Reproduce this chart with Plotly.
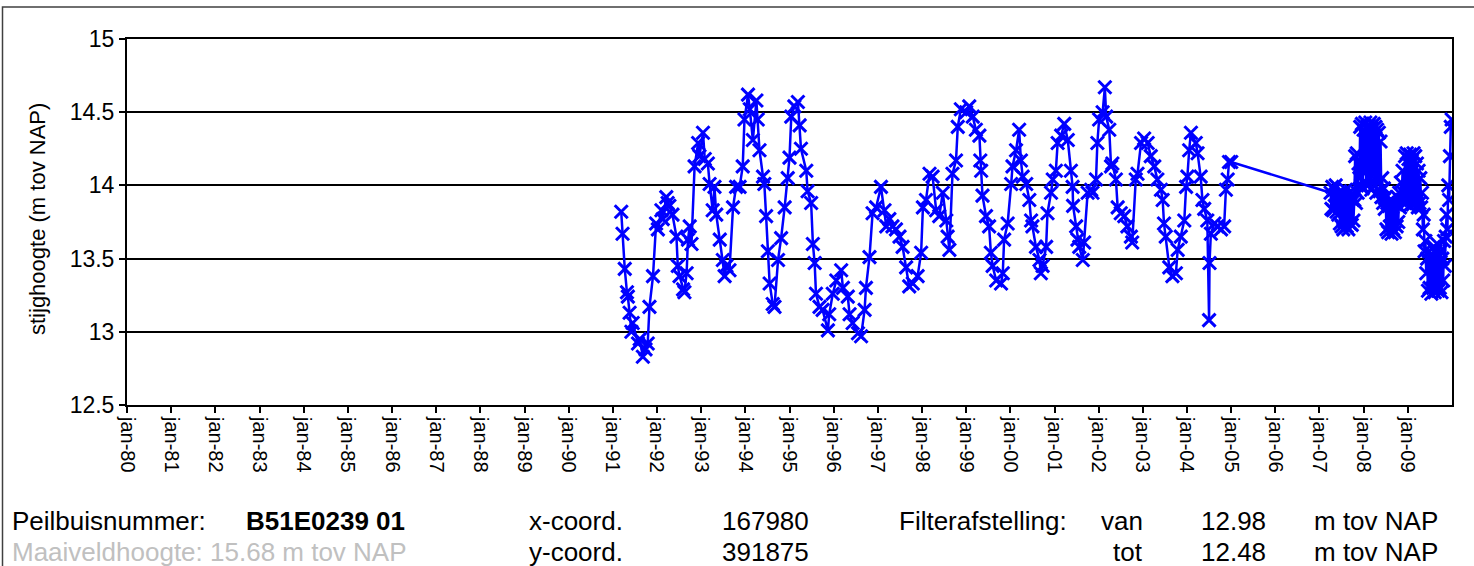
import pandas as pd
import plotly.graph_objects as go

# ---------------- data ----------------
# manual measurements: decimal year, stijghoogte (m tov NAP)
manual_years = [
    1991.19, 1991.22, 1991.27, 1991.32, 1991.34, 1991.38, 1991.42, 1991.45, 1991.57, 1991.61,
    1991.68, 1991.74, 1991.79, 1991.83, 1991.91, 1991.98, 1992.02, 1992.10, 1992.13, 1992.21,
    1992.24, 1992.28, 1992.35, 1992.44, 1992.47, 1992.51, 1992.59, 1992.62, 1992.67, 1992.70,
    1992.74, 1992.78, 1992.85, 1992.93, 1992.96, 1993.04, 1993.08, 1993.15, 1993.19, 1993.26,
    1993.30, 1993.34, 1993.42, 1993.49, 1993.53, 1993.57, 1993.64, 1993.72, 1993.79, 1993.87,
    1993.94, 1993.98, 1994.06, 1994.10, 1994.17, 1994.25, 1994.28, 1994.32, 1994.40, 1994.43,
    1994.47, 1994.51, 1994.55, 1994.62, 1994.66, 1994.74, 1994.81, 1994.89, 1994.96, 1995.00,
    1995.04, 1995.11, 1995.19, 1995.23, 1995.26, 1995.38, 1995.41, 1995.49, 1995.53, 1995.57,
    1995.60, 1995.68, 1995.75, 1995.87, 1995.90, 1995.98, 1996.06, 1996.17, 1996.21, 1996.32,
    1996.36, 1996.43, 1996.55, 1996.62, 1996.70, 1996.73, 1996.81, 1996.88, 1996.96, 1997.07,
    1997.15, 1997.19, 1997.26, 1997.33, 1997.41, 1997.49, 1997.56, 1997.64, 1997.71, 1997.79,
    1997.90, 1997.98, 1998.02, 1998.09, 1998.17, 1998.24, 1998.32, 1998.39, 1998.47, 1998.55,
    1998.58, 1998.62, 1998.69, 1998.77, 1998.81, 1998.88, 1999.00, 1999.07, 1999.15, 1999.22,
    1999.30, 1999.32, 1999.34, 1999.37, 1999.45, 1999.52, 1999.56, 1999.60, 1999.68, 1999.79,
    1999.83, 1999.86, 1999.94, 2000.02, 2000.05, 2000.13, 2000.20, 2000.24, 2000.28, 2000.36,
    2000.43, 2000.47, 2000.50, 2000.58, 2000.66, 2000.69, 2000.73, 2000.81, 2000.84, 2000.92,
    2000.96, 2001.03, 2001.07, 2001.15, 2001.22, 2001.30, 2001.37, 2001.41, 2001.42, 2001.49,
    2001.52, 2001.56, 2001.64, 2001.67, 2001.75, 2001.83, 2001.86, 2001.94, 2001.97, 2002.01,
    2002.09, 2002.14, 2002.17, 2002.24, 2002.28, 2002.31, 2002.39, 2002.43, 2002.50, 2002.58,
    2002.65, 2002.73, 2002.76, 2002.84, 2002.88, 2002.96, 2003.03, 2003.11, 2003.18, 2003.26,
    2003.33, 2003.41, 2003.45, 2003.48, 2003.52, 2003.60, 2003.67, 2003.75, 2003.79, 2003.86,
    2003.94, 2003.98, 2004.01, 2004.05, 2004.09, 2004.20, 2004.24, 2004.31, 2004.35, 2004.39,
    2004.46, 2004.50, 2004.51, 2004.54, 2004.62, 2004.69, 2004.77, 2004.84, 2004.88, 2004.92,
    2004.95, 2005.00,
]
manual_values = [
    13.82, 13.67, 13.43, 13.27, 13.24, 13.13, 13.00, 13.06, 12.92, 12.95,
    12.83, 12.88, 12.92, 13.17, 13.38, 13.74, 13.70, 13.83, 13.77, 13.92,
    13.88, 13.86, 13.80, 13.65, 13.45, 13.38, 13.29, 13.27, 13.40, 13.63,
    13.72, 13.60, 14.13, 14.29, 14.20, 14.36, 14.18, 14.15, 14.01, 13.83,
    13.99, 13.80, 13.63, 13.49, 13.38, 13.45, 13.42, 13.85, 13.99, 13.99,
    14.13, 14.45, 14.62, 14.52, 14.31, 14.58, 14.45, 14.24, 14.06, 14.01,
    13.79, 13.55, 13.33, 13.19, 13.17, 13.49, 13.64, 13.85, 14.05, 14.19,
    14.47, 14.54, 14.57, 14.41, 14.25, 14.10, 13.96, 13.88, 13.60, 13.47,
    13.26, 13.17, 13.15, 13.01, 13.12, 13.26, 13.35, 13.42, 13.30, 13.24,
    13.12, 13.06, 12.99, 12.97, 13.15, 13.30, 13.51, 13.81, 13.85, 13.99,
    13.83, 13.72, 13.77, 13.72, 13.70, 13.65, 13.58, 13.44, 13.31, 13.33,
    13.38, 13.54, 13.85, 13.90, 14.08, 14.06, 13.83, 13.79, 13.95, 13.76,
    13.65, 13.56, 14.08, 14.17, 14.40, 14.52, 14.50, 14.54, 14.47, 14.38,
    14.34, 14.17, 14.10, 13.93, 13.79, 13.72, 13.54, 13.45, 13.35, 13.33,
    13.40, 13.63, 13.74, 14.01, 14.13, 14.24, 14.38, 14.17, 14.06, 14.01,
    13.90, 13.76, 13.72, 13.58, 13.49, 13.40, 13.45, 13.58, 13.81, 13.95,
    14.04, 14.10, 14.29, 14.34, 14.42, 14.31, 14.10, 13.99, 13.86, 13.72,
    13.63, 13.58, 13.49, 13.61, 13.95, 13.97, 13.95, 14.04, 14.29, 14.45,
    14.50, 14.67, 14.47, 14.38, 14.13, 14.15, 14.04, 13.85, 13.81, 13.79,
    13.72, 13.65, 13.61, 14.04, 14.08, 14.29, 14.32, 14.29, 14.20, 14.13,
    14.04, 13.97, 13.90, 13.74, 13.65, 13.44, 13.38, 13.40, 13.56, 13.65,
    13.76, 13.99, 14.06, 14.24, 14.36, 14.29, 14.22, 14.06, 13.90, 13.84,
    13.76, 13.08, 13.47, 13.67, 13.74, 13.72, 13.70, 13.72, 13.97, 14.04,
    14.16, 14.16,
]

# logger measurements (weekly readings) starting at this date
logger_start = "2007-04-03"
logger_values = [
    13.95, 13.84, 13.99, 13.83, 13.97, 13.86, 14.00, 13.82, 13.94, 13.80, 13.92,
    13.74, 13.95, 13.72, 13.90, 13.70, 13.93, 13.75, 13.97, 13.72, 13.88, 13.70, 13.92,
    13.74, 13.96, 13.73, 13.90, 13.76,
    13.90, 14.20, 13.88, 14.22, 13.95, 14.15,
    14.05, 14.40, 14.00, 14.42, 13.98, 14.38, 14.10, 14.43, 14.02, 14.40, 14.00, 14.41,
    14.05, 14.43, 13.97, 14.39, 14.08, 14.42, 14.00, 14.40, 13.95, 14.38, 14.02, 14.36,
    13.96, 14.30,
    13.92, 14.05, 13.88, 13.98, 13.84, 13.92,
    13.70, 13.88, 13.68, 13.86, 13.72, 13.90, 13.67, 13.85, 13.70, 13.88, 13.68, 13.87,
    13.72, 13.92, 13.75,
    13.95, 13.85, 14.02, 13.90, 14.10, 13.95,
    13.90, 14.20, 13.88, 14.22, 13.92, 14.18, 13.86, 14.21, 13.90, 14.17, 13.87, 14.22,
    13.93, 14.20, 13.88, 14.15, 13.85, 14.10, 13.88, 14.05,
    13.85, 13.95, 13.70, 13.80, 13.55, 13.62, 13.40, 13.50,
    13.28, 13.55, 13.30, 13.52, 13.26, 13.50, 13.30, 13.58, 13.27, 13.55, 13.32, 13.60,
    13.28, 13.52, 13.30, 13.55, 13.27, 13.50, 13.35, 13.62,
    13.45, 13.65, 13.80, 13.70, 14.00, 13.90, 14.20, 14.40, 14.45,
]

tick_years = list(range(1980, 2010))
tick_labels = ["jan-%02d" % (y % 100) for y in tick_years]
y_ticks = [12.5, 13, 13.5, 14, 14.5, 15]

# ---------------- build ----------------
def dec2date(d):
    y = int(d)
    start = pd.Timestamp(y, 1, 1)
    end = pd.Timestamp(y + 1, 1, 1)
    return start + (end - start) * (d - y)

manual_dates = [dec2date(d) for d in manual_years]
logger_dates = list(pd.date_range(logger_start, periods=len(logger_values), freq="7D"))

xs = manual_dates + logger_dates
ys = manual_values + logger_values

BLUE = "#0000FF"
FONT = "Liberation Sans, Arial, sans-serif"

fig = go.Figure()
fig.add_trace(go.Scatter(
    x=xs, y=ys, mode="lines+markers",
    line=dict(color=BLUE, width=2.5),
    marker=dict(symbol="x-thin", size=13, color=BLUE, line=dict(color=BLUE, width=3)),
    showlegend=False, hoverinfo="skip",
))

fig.update_layout(
    width=1474, height=566,
    margin=dict(l=127, r=22, t=39, b=161),
    paper_bgcolor="white", plot_bgcolor="white",
    font=dict(family=FONT, color="black"),
    xaxis=dict(
        type="date",
        range=[pd.Timestamp(1980, 1, 1), pd.Timestamp(2010, 1, 1)],
        tickvals=[pd.Timestamp(y, 1, 1) for y in tick_years],
        ticktext=tick_labels,
        tickangle=90,
        tickfont=dict(size=20, family=FONT),
        ticks="outside", ticklen=6, tickwidth=1.5, tickcolor="black",
        showgrid=False, zeroline=False,
        showline=True, linecolor="black", linewidth=2, mirror=True,
        automargin=False,
    ),
    yaxis=dict(
        range=[12.5, 15],
        tickvals=y_ticks,
        ticktext=[("%g" % v) for v in y_ticks],
        tickfont=dict(size=23, family=FONT),
        ticks="outside", ticklen=6, tickwidth=1.5, tickcolor="black",
        showgrid=True, gridcolor="black", gridwidth=2,
        zeroline=False,
        showline=True, linecolor="black", linewidth=2, mirror=True,
        automargin=False,
    ),
)

PW = 1474 - 127 - 22
PH = 566 - 39 - 161

def px(x):
    return (x - 127) / PW

def py(y):
    return (566 - 161 - y) / PH

annotations = [
    dict(text="stijghoogte (m tov NAP)", x=px(37), y=py(219), textangle=-90,
         xanchor="center", yanchor="middle", font=dict(size=22)),
]

row1, row2 = 521, 552
txt = [
    ("Peilbuisnummer:", 10, row1, "left", "black"),
    ("<b>B51E0239 01</b>", 244, row1, "left", "black"),
    ("x-coord.", 527, row1, "left", "black"),
    ("167980", 720, row1, "left", "black"),
    ("Filterafstelling:", 897, row1, "left", "black"),
    ("van", 1145, row1, "right", "black"),
    ("12.98", 1199, row1, "left", "black"),
    ("m tov NAP", 1312, row1, "left", "black"),
    ("Maaiveldhoogte: 15.68 m tov NAP", 10, row2, "left", "#C0C0C0"),
    ("y-coord.", 527, row2, "left", "black"),
    ("391875", 720, row2, "left", "black"),
    ("tot", 1145, row2, "right", "black"),
    ("12.48", 1199, row2, "left", "black"),
    ("m tov NAP", 1312, row2, "left", "black"),
]
for t, x, y, anc, c in txt:
    annotations.append(dict(text=t, x=px(x), y=py(y), xanchor=anc, yanchor="middle",
                            font=dict(size=26, color=c)))
for a in annotations:
    a["xref"] = "paper"
    a["yref"] = "paper"
    a["showarrow"] = False
fig.update_layout(annotations=annotations)

fig.add_shape(type="rect", xref="paper", yref="paper",
              x0=px(2.5), x1=px(1490), y0=py(7), y1=py(580),
              line=dict(color="#404040", width=1.5), layer="below")

fig.write_html("out.html", config={"displayModeBar": False},
               post_script="document.body.style.margin='0px';document.body.style.padding='0px';")
